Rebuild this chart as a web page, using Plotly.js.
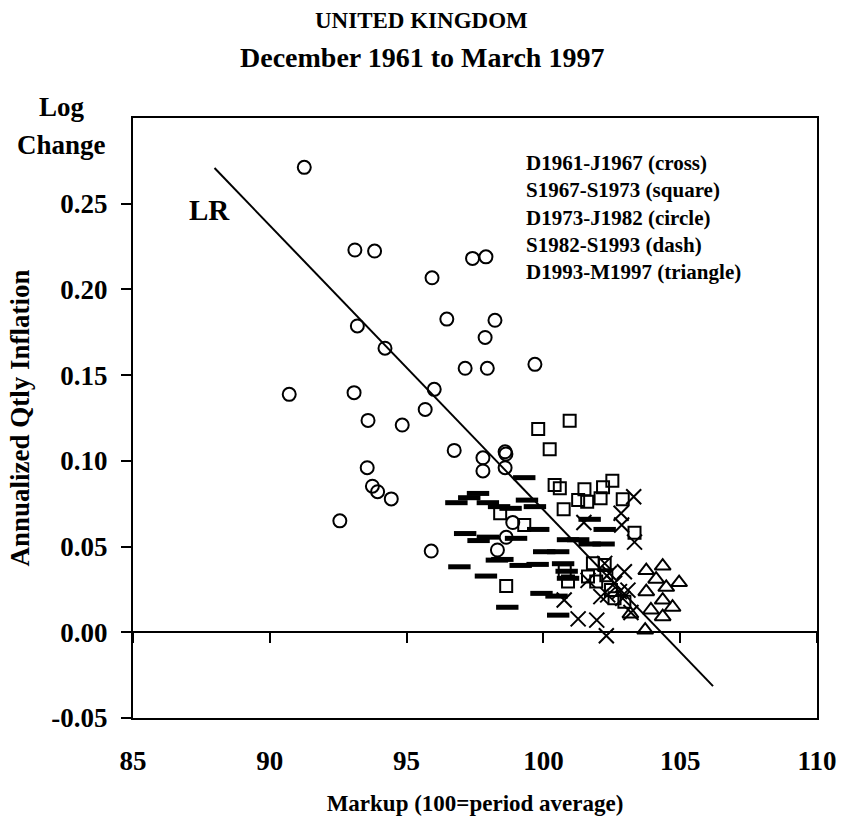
<!DOCTYPE html>
<html>
<head>
<meta charset="utf-8">
<script src="https://cdn.plot.ly/plotly-3.0.1.min.js"></script>
<style>html,body{margin:0;padding:0;background:#fff;}#chart{width:844px;height:830px;}</style>
</head>
<body>
<div id="chart"></div>
<script>
// ---- data ----
const crossX = [103.3, 102.84, 102.86, 101.48, 103.33, 100.76, 101.27, 101.95, 102.3, 102.24, 102.41, 102.96, 102.6, 102.78, 102.1, 103.09, 103.2, 101.63, 102.9, 102.35];
const crossY = [0.0791, 0.0694, 0.0626, 0.064, 0.0526, 0.0188, 0.0078, 0.0071, -0.002, 0.0402, 0.0344, 0.0353, 0.0286, 0.0237, 0.0208, 0.0246, 0.0115, 0.0303, 0.0198, 0.0218];

const squareX = [99.81, 100.96, 100.23, 100.41, 100.6, 101.5, 102.18, 102.52, 101.27, 101.6, 102.09, 102.9, 100.74, 103.33, 98.42, 99.3, 98.64, 100.78, 100.9, 101.81, 102.24, 101.63, 101.93, 102.3, 102.6, 102.96, 102.47];
const squareY = [0.1186, 0.1234, 0.1067, 0.0859, 0.084, 0.0834, 0.0846, 0.0884, 0.0772, 0.0762, 0.0782, 0.0776, 0.0717, 0.0581, 0.0694, 0.0626, 0.027, 0.0356, 0.0296, 0.0402, 0.0392, 0.0325, 0.0296, 0.0333, 0.0198, 0.0178, 0.0246];

const circleX = [91.26, 93.11, 93.83, 95.93, 97.41, 97.9, 96.47, 98.23, 97.87, 93.2, 94.21, 97.14, 97.95, 90.71, 93.08, 96.01, 95.68, 99.69, 93.59, 94.84, 96.74, 97.79, 98.6, 98.63, 97.79, 98.6, 93.56, 93.75, 93.94, 94.44, 92.56, 95.9, 98.88, 98.64, 98.32];
const circleY = [0.2712, 0.223, 0.2224, 0.2068, 0.2181, 0.219, 0.1827, 0.182, 0.172, 0.1787, 0.1657, 0.154, 0.154, 0.1388, 0.1398, 0.1417, 0.130, 0.1563, 0.1236, 0.1209, 0.1061, 0.1018, 0.1053, 0.104, 0.0941, 0.096, 0.096, 0.0852, 0.082, 0.0778, 0.065, 0.0474, 0.064, 0.0554, 0.048];

const dashX = [99.3, 97.61, 97.29, 96.82, 97.97, 98.38, 98.8, 99.4, 99.69, 99.81, 97.14, 97.63, 97.97, 99.0, 100.03, 98.3, 98.5, 96.93, 99.17, 99.79, 97.9, 99.93, 98.68, 101.69, 102.24, 100.9, 101.27, 101.69, 102.2, 100.54, 100.72, 100.48, 100.54, 100.85, 100.9];
const dashY = [0.0902, 0.081, 0.0785, 0.0756, 0.0756, 0.0733, 0.0723, 0.0771, 0.0733, 0.060, 0.0576, 0.0535, 0.0555, 0.0548, 0.047, 0.0421, 0.0425, 0.0382, 0.039, 0.0396, 0.0328, 0.0227, 0.0146, 0.0659, 0.060, 0.054, 0.054, 0.0515, 0.0515, 0.047, 0.040, 0.0211, 0.010, 0.0356, 0.0315];

const triX = [103.76, 104.36, 104.96, 104.12, 104.49, 103.76, 104.36, 104.72, 103.93, 104.36, 103.72, 103.18];
const triY = [0.036, 0.0386, 0.029, 0.031, 0.0262, 0.0237, 0.0188, 0.0146, 0.013, 0.0091, 0.0013, 0.0107];

const lrX = [87.98, 106.2];
const lrY = [0.2708, -0.0314];

const xTicks = [85, 90, 95, 100, 105, 110];
const yTicks = [-0.05, 0.00, 0.05, 0.10, 0.15, 0.20, 0.25];
const xRange = [85, 110];
const yRange = [-0.05, 0.30];

const titleLines = ["UNITED KINGDOM", "December 1961 to March 1997"];
const yUnitLines = ["Log", "Change"];
const legendLines = ["D1961-J1967 (cross)", "S1967-S1973 (square)", "D1973-J1982 (circle)", "S1982-S1993 (dash)", "D1993-M1997 (triangle)"];

// ---- drawing ----
const FONT = "Liberation Serif, Times New Roman, serif";
const bold = (size) => ({family: FONT, size: size, color: "#000", weight: "bold"});
const mk = (symbol, size, w) => ({symbol: symbol, size: size, color: "#000", line: {color: "#000", width: w}});

const traces = [
  {x: lrX, y: lrY, mode: "lines", line: {color: "#000", width: 2}, hoverinfo: "skip"},
  {x: crossX, y: crossY, mode: "markers", marker: mk("x-thin-open", 15, 2)},
  {x: squareX, y: squareY, mode: "markers", marker: mk("square-open", 12, 2)},
  {x: circleX, y: circleY, mode: "markers", marker: mk("circle-open", 13, 2)},
  {x: dashX, y: dashY, mode: "markers", marker: mk("line-ew-open", 16, 5)},
  {x: triX, y: triY, mode: "markers", marker: mk("triangle-up-open", 14, 2)}
];

const zeroPos = (0 - yRange[0]) / (yRange[1] - yRange[0]);

const layout = {
  width: 844, height: 830,
  margin: {l: 133, r: 27, t: 118, b: 112},
  paper_bgcolor: "#fff", plot_bgcolor: "#fff",
  showlegend: false,
  xaxis: {
    range: xRange, tickvals: xTicks, ticktext: xTicks.map(String),
    showgrid: false, zeroline: false, showline: true, linecolor: "#000", linewidth: 2, mirror: true,
    ticks: "outside", ticklen: 18, tickcolor: "rgba(0,0,0,0)",
    tickfont: bold(27),
    title: {text: "Markup (100=period average)", font: bold(23), standoff: 19}
  },
  xaxis2: {
    range: xRange, tickvals: xTicks, overlaying: "x", anchor: "free", position: zeroPos,
    showticklabels: false, ticks: "outside", ticklen: 10, tickwidth: 2, tickcolor: "#000",
    showgrid: false, zeroline: false, showline: false
  },
  yaxis: {
    range: yRange, tickvals: yTicks, ticktext: yTicks.map(v => v.toFixed(2)),
    showgrid: false, zeroline: true, zerolinecolor: "#000", zerolinewidth: 2,
    showline: true, linecolor: "#000", linewidth: 2, mirror: true,
    ticks: "outside", ticklen: 10, tickwidth: 2, tickcolor: "#000",
    ticklabelstandoff: 8,
    tickfont: bold(27),
    title: {text: "Annualized Qtly Inflation", font: bold(27), standoff: 14}
  },
  annotations: [
    {xref: "paper", yref: "paper", x: 0.4225, y: 1.163, xanchor: "center", yanchor: "middle", text: titleLines[0], showarrow: false, font: bold(23)},
    {xref: "paper", yref: "paper", x: 0.4225, y: 1.100, xanchor: "center", yanchor: "middle", text: titleLines[1], showarrow: false, font: bold(28)},
    {xref: "paper", yref: "paper", x: -0.104, y: 1.018, xanchor: "center", yanchor: "middle", text: yUnitLines[0], showarrow: false, font: bold(27)},
    {xref: "paper", yref: "paper", x: -0.104, y: 0.955, xanchor: "center", yanchor: "middle", text: yUnitLines[1], showarrow: false, font: bold(27)},
    {xref: "x", yref: "y", x: 87.8, y: 0.2463, text: "LR", showarrow: false, font: bold(29), xanchor: "center", yanchor: "middle"},
    {xref: "paper", yref: "paper", x: 0.5716, y: 0.949, xanchor: "left", yanchor: "top", text: legendLines.join("<br>"), showarrow: false, font: bold(21), align: "left"}
  ]
};

// invisible point so xaxis2 (ticks on the zero line) is drawn
traces.push({x: [xRange[0]], y: [yRange[0]], xaxis: "x2", mode: "markers", marker: {opacity: 0}, hoverinfo: "skip"});

Plotly.newPlot("chart", traces, layout, {displayModeBar: false, staticPlot: true});
</script>
</body>
</html>
